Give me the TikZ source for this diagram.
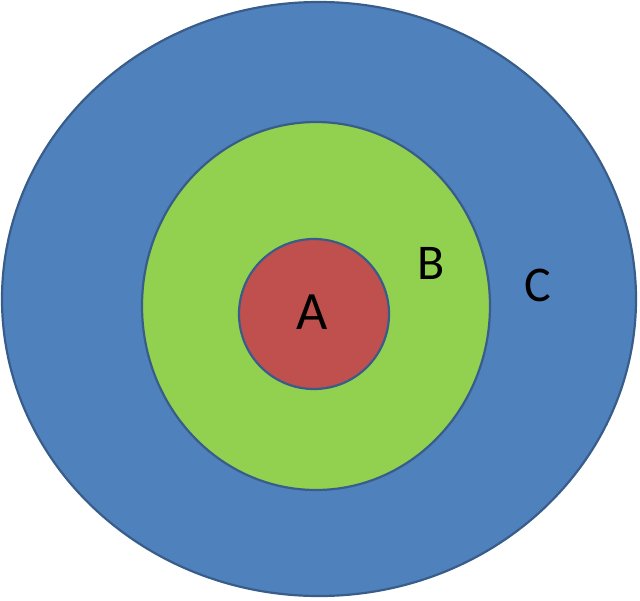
\documentclass[tikz,border=0pt]{standalone}
\usepackage{fontspec}
\setmainfont{Carlito}
\definecolor{cblue}{HTML}{4F81BD}
\definecolor{cgreen}{HTML}{92D050}
\definecolor{cred}{HTML}{C0504D}
\definecolor{cline}{HTML}{385D8A}
\begin{document}
\begin{tikzpicture}[x=1pt,y=-1pt,
  ring/.style={draw=cline,line width=2.2pt},
  lbl/.style={inner sep=0pt,font=\fontsize{50}{50}\selectfont}]
\useasboundingbox (0,0) rectangle (640,600);
\path[ring,fill=cblue] (319,299) ellipse [x radius=317,y radius=297];
\path[ring,fill=cgreen] (316,306) ellipse [x radius=174,y radius=184];
\path[ring,fill=cred] (314,314) ellipse [x radius=75,y radius=75];
\node[lbl,font=\fontsize{54}{54}\selectfont,anchor=center] (a) at (312,312) {A};
\node[lbl] (b) at (431,263) {B};
\node[lbl] (c) at (538,285) {C};
\end{tikzpicture}
\end{document}
